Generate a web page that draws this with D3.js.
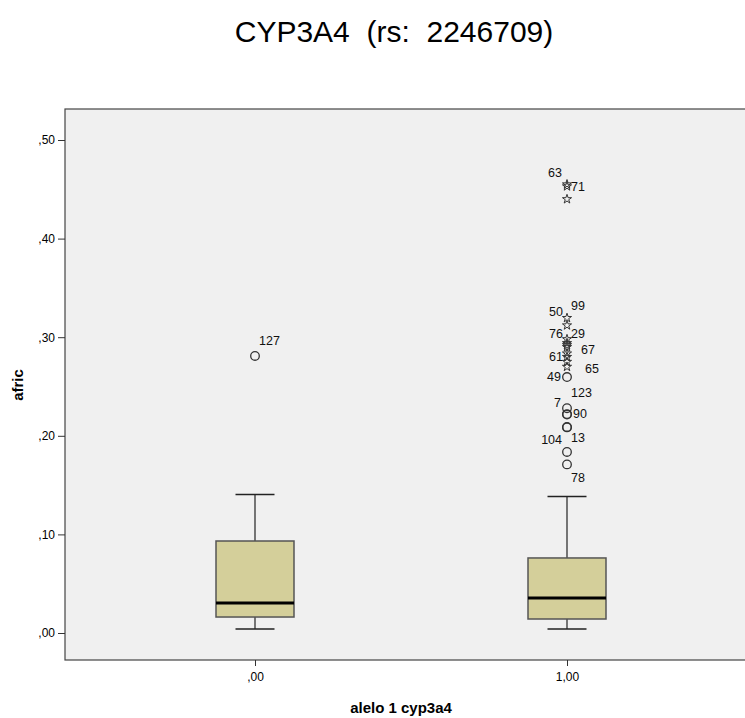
<!DOCTYPE html>
<html>
<head>
<meta charset="utf-8">
<script src="https://d3js.org/d3.v7.min.js"></script>
<style>
    body { margin: 0; background: #fff; }
    text { font-family: "Liberation Sans", Arial, sans-serif; }
    .title { font-size: 30px; fill: #000; white-space: pre; }
    .tick text { font-size: 12px; fill: #000; }
    .axislabel { font-size: 15px; font-weight: bold; fill: #000; }
    .olabel { font-size: 12.5px; fill: #111; }
</style>
</head>
<body>
<div id="chart"></div>
<script>
// groups on the x axis
var groups = ["0", "1"];
var groupLabels = [",00", "1,00"];

// box statistics per group (whisker low, q1, median, q3, whisker high)
var whiskerLow = [0.004, 0.004];
var q1 = [0.0162, 0.0142];
var median = [0.0304, 0.0355];
var q3 = [0.0933, 0.0761];
var whiskerHigh = [0.1405, 0.1385];

// outliers: group, value, kind (o = outlier, e = extreme), case label
var outGroup = ["0", "1", "1", "1", "1", "1", "1", "1", "1", "1", "1", "1", "1", "1", "1", "1", "1", "1", "1", "1", "1", "1"];
var outValue = [0.281, 0.455, 0.453, 0.440, 0.3195, 0.312, 0.298, 0.294, 0.292, 0.290, 0.280, 0.275, 0.270, 0.2596, 0.228, 0.222, 0.2215, 0.209, 0.2085, 0.1836, 0.171, 0.2835];
var outKind = ["o", "e", "e", "e", "e", "e", "e", "e", "e", "e", "e", "e", "e", "o", "o", "o", "o", "o", "o", "o", "o", "e"];
var outLabel = ["127", "63", "71", "", "99", "50", "29", "76", "", "67", "61", "", "65", "49", "123", "7", "90", "104", "13", "", "78", ""];

var yTicks = [0, 0.1, 0.2, 0.3, 0.4, 0.5];

var width = 745, height = 718;
var frame = {left: 65, top: 109, right: 760, bottom: 660};

var svg = d3.select("#chart").append("svg")
    .attr("width", width)
    .attr("height", height);

var y = d3.scaleLinear().domain([0, 0.5]).range([633, 140]);
var x = d3.scalePoint().domain(groups).range([255, 567]);
var boxW = 78;

function fmt(v) {
    var s = d3.format(".2f")(v).replace(".", ",");
    return s.startsWith("0,") ? s.slice(1) : s;
}

svg.append("text")
    .attr("class", "title")
    .attr("x", 394)
    .attr("y", 42)
    .attr("text-anchor", "middle")
    .text("CYP3A4  (rs:  2246709)");

// plot frame
svg.append("rect")
    .attr("x", frame.left)
    .attr("y", frame.top)
    .attr("width", frame.right - frame.left)
    .attr("height", frame.bottom - frame.top)
    .attr("fill", "#f0f0f0")
    .attr("stroke", "#444")
    .attr("stroke-width", 1.2);

// axes
var yaxis = d3.axisLeft(y).tickValues(yTicks).tickFormat(fmt).tickSize(7).tickPadding(3);
var gy = svg.append("g")
    .attr("transform", "translate(" + frame.left + ",0)")
    .call(yaxis);
gy.select(".domain").remove();
gy.selectAll(".tick line").attr("stroke", "#333");

var xaxis = d3.axisBottom(x).tickFormat((d, i) => groupLabels[i]).tickSize(6).tickPadding(6);
var gx = svg.append("g")
    .attr("transform", "translate(0," + frame.bottom + ")")
    .call(xaxis);
gx.select(".domain").remove();
gx.selectAll(".tick line").attr("stroke", "#333");

svg.append("text")
    .attr("class", "axislabel")
    .attr("x", 401)
    .attr("y", 713)
    .attr("text-anchor", "middle")
    .text("alelo 1 cyp3a4");

svg.append("text")
    .attr("class", "axislabel")
    .attr("transform", "translate(23,385) rotate(-90)")
    .attr("text-anchor", "middle")
    .text("afric");

// boxes
var boxes = svg.selectAll(".box")
    .data(groups)
    .enter()
    .append("g")
    .attr("class", "box");

boxes.append("line") // whisker stem
    .attr("x1", d => x(d)).attr("x2", d => x(d))
    .attr("y1", (d, i) => y(whiskerHigh[i]))
    .attr("y2", (d, i) => y(whiskerLow[i]))
    .attr("stroke", "#222").attr("stroke-width", 1.2);

boxes.append("line") // top cap
    .attr("x1", d => x(d) - boxW / 4).attr("x2", d => x(d) + boxW / 4)
    .attr("y1", (d, i) => y(whiskerHigh[i])).attr("y2", (d, i) => y(whiskerHigh[i]))
    .attr("stroke", "#222").attr("stroke-width", 1.5);

boxes.append("line") // bottom cap
    .attr("x1", d => x(d) - boxW / 4).attr("x2", d => x(d) + boxW / 4)
    .attr("y1", (d, i) => y(whiskerLow[i])).attr("y2", (d, i) => y(whiskerLow[i]))
    .attr("stroke", "#222").attr("stroke-width", 1.5);

boxes.append("rect")
    .attr("x", d => x(d) - boxW / 2)
    .attr("y", (d, i) => y(q3[i]))
    .attr("width", boxW)
    .attr("height", (d, i) => y(q1[i]) - y(q3[i]))
    .attr("fill", "#d4cf9a")
    .attr("stroke", "#555")
    .attr("stroke-width", 1.5);

boxes.append("line") // median
    .attr("x1", d => x(d) - boxW / 2).attr("x2", d => x(d) + boxW / 2)
    .attr("y1", (d, i) => y(median[i])).attr("y2", (d, i) => y(median[i]))
    .attr("stroke", "#000").attr("stroke-width", 3);

// outliers
var outliers = outValue.map((v, i) => ({g: outGroup[i], v: v, k: outKind[i], l: outLabel[i]}));

svg.selectAll(".out")
    .data(outliers.filter(d => d.k === "o"))
    .enter()
    .append("circle")
    .attr("cx", d => x(d.g))
    .attr("cy", d => y(d.v))
    .attr("r", 4.3)
    .attr("fill", "none")
    .attr("stroke", "#333")
    .attr("stroke-width", 1.3);

svg.selectAll(".ext")
    .data(outliers.filter(d => d.k === "e"))
    .enter()
    .append("path")
    .attr("d", d3.symbol(d3.symbolStar, 26))
    .attr("transform", d => "translate(" + x(d.g) + "," + y(d.v) + ")")
    .attr("fill", "none")
    .attr("stroke", "#333")
    .attr("stroke-width", 1);

// label placement relative to the mark: dx, dy (to baseline), anchor
var labelPos = {
    "127": [4, -11, "start"], "63": [-5, -7, "end"], "71": [4, 5, "start"],
    "99": [4, -8, "start"], "50": [-4, -9, "end"], "29": [4, -1, "start"],
    "76": [-4, -5, "end"], "67": [14, 7, "start"], "61": [-4, 4, "end"],
    "65": [18, 6, "start"], "49": [-6, 4, "end"], "123": [4, -11, "start"],
    "7": [-6, -7, "end"], "90": [6, 3, "start"], "104": [-5, 17, "end"],
    "13": [4, 15, "start"], "78": [4, 18, "start"]
};

svg.selectAll(".olabel")
    .data(outliers.filter(d => d.l !== ""))
    .enter()
    .append("text")
    .attr("class", "olabel")
    .attr("x", d => x(d.g) + labelPos[d.l][0])
    .attr("y", d => y(d.v) + labelPos[d.l][1])
    .attr("text-anchor", d => labelPos[d.l][2])
    .text(d => d.l);
</script>
</body>
</html>
